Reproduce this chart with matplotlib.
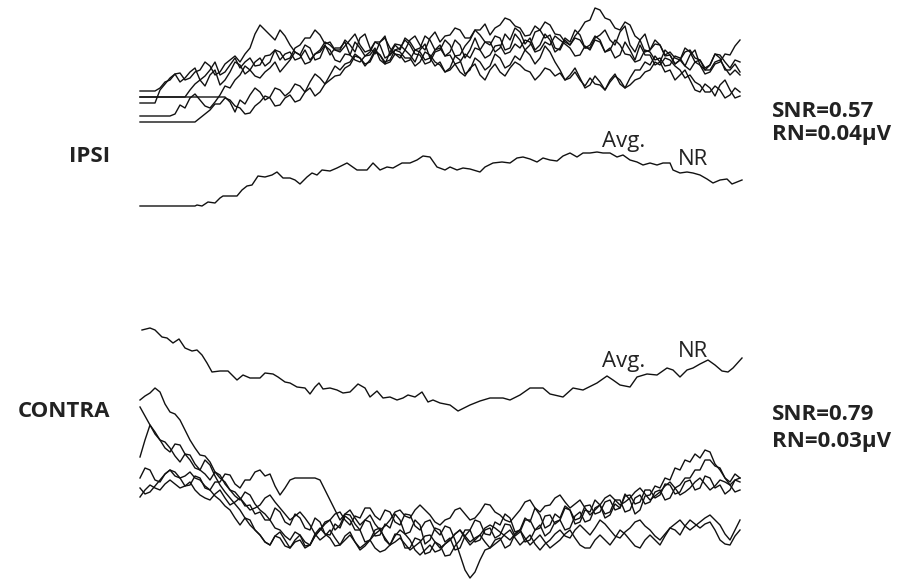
import numpy as np
import matplotlib.pyplot as plt

plt.rcParams['font.family'] = ['Open Sans', 'DejaVu Sans']

# single sweeps are sampled every 5 samples over 0..600
SWEEP_STEP = 5

# IPSI single sweeps (amplitude, arbitrary units), one row = 50 samples
ipsi_a = [9, 9, 9, 9, 12, 18, 20, 26, 27, 20,
          22, 28, 30, 38, 34, 25, 28, 36, 40, 44,
          38, 46, 52, 66, 75, 70, 65, 60, 70, 64,
          55, 48, 45, 55, 52, 40, 42, 54, 50, 40,
          38, 46, 45, 58, 52, 44, 48, 58, 55, 42,
          45, 55, 50, 62, 58, 50, 52, 64, 60, 50,
          55, 44, 48, 60, 55, 42, 50, 62, 50, 58,
          58, 48, 52, 66, 60, 72, 68, 56, 62, 50,
          55, 66, 60, 48, 52, 62, 58, 70, 65, 52,
          55, 64, 60, 48, 52, 42, 45, 58, 50, 40,
          55, 45, 45, 35, 38, 50, 45, 36, 40, 52,
          48, 38, 40, 32, 35, 46, 42, 30, 30, 36,
          28]
ipsi_b = [3, 3, 3, 3, 3, 3, 3, 3, 3, 3,
          10, 16, 20, 14, 25, 30, 15, 20, 28, 38,
          35, 26, 30, 38, 42, 34, 38, 50, 48, 40,
          42, 52, 55, 62, 62, 70, 65, 56, 58, 50,
          50, 60, 55, 48, 62, 66, 52, 46, 58, 64,
          45, 50, 52, 60, 55, 46, 45, 36, 38, 48,
          50, 60, 55, 44, 45, 54, 60, 70, 65, 58,
          55, 64, 62, 50, 52, 66, 60, 50, 55, 68,
          70, 62, 65, 52, 50, 60, 55, 64, 70, 78,
          80, 92, 90, 82, 80, 72, 70, 78, 75, 64,
          60, 48, 50, 60, 55, 44, 45, 36, 40, 48,
          50, 42, 40, 30, 35, 46, 45, 38, 32, 40,
          38]
ipsi_c = [3, 3, 3, 3, 3, 3, 3, 3, 3, 3,
          3, 3, 3, 3, 3, 3, 3, 3, -2, -12,
          0, -4, 5, 12, 8, 0, 3, 12, 10, 4,
          8, 16, 14, 8, 18, 26, 22, 16, 25, 34,
          30, 36, 38, 46, 42, 34, 40, 50, 45, 36,
          38, 46, 42, 50, 45, 38, 50, 56, 42, 34,
          38, 28, 32, 44, 40, 26, 30, 42, 38, 30,
          34, 46, 42, 32, 35, 44, 40, 50, 45, 36,
          42, 54, 48, 38, 30, 20, 25, 32, 22, 12,
          15, 24, 18, 10, 20, 26, 16, 12, 22, 30,
          30, 38, 35, 44, 38, 28, 30, 20, 25, 30,
          20, 10, 8, 16, 12, 4, 15, 20, 10, 2,
          4]
ipsi_d = [-3, -3, -3, -3, 10, 16, 22, 26, 18, 22,
          28, 32, 20, 24, 30, 38, 25, 28, 35, 42,
          32, 38, 42, 34, 35, 44, 45, 50, 40, 46,
          48, 40, 42, 50, 40, 46, 48, 55, 45, 52,
          52, 58, 45, 40, 38, 44, 45, 52, 40, 36,
          48, 56, 55, 50, 60, 64, 55, 50, 62, 68,
          58, 64, 65, 72, 70, 62, 62, 70, 70, 76,
          65, 72, 75, 82, 80, 74, 72, 64, 65, 74,
          70, 78, 75, 66, 65, 58, 55, 62, 60, 52,
          52, 62, 65, 70, 60, 55, 68, 74, 55, 48,
          60, 66, 50, 56, 55, 45, 48, 42, 40, 34,
          45, 50, 35, 30, 30, 38, 40, 32, 25, 30,
          25]
ipsi_e = [-16, -16, -16, -16, -16, -16, -16, -14, -5, -8,
          2, 6, 0, -6, -8, -2, 5, 14, 12, 20,
          25, 34, 30, 24, 22, 28, 32, 38, 28, 34,
          40, 48, 45, 36, 38, 46, 50, 58, 55, 50,
          48, 54, 60, 66, 55, 48, 50, 58, 58, 62,
          52, 46, 45, 38, 40, 50, 48, 40, 42, 50,
          52, 44, 45, 36, 38, 46, 42, 52, 50, 42,
          45, 54, 55, 46, 48, 56, 52, 60, 58, 48,
          50, 58, 55, 64, 60, 56, 52, 44, 45, 54,
          50, 60, 58, 48, 50, 60, 55, 46, 45, 38,
          40, 50, 48, 40, 42, 34, 35, 44, 42, 34,
          30, 38, 35, 26, 28, 36, 38, 46, 45, 54,
          60]
ipsi_f = [-22, -22, -22, -22, -22, -22, -22, -22, -22, -22,
          -22, -22, -18, -14, -10, -4, -4, 2, 0, -6,
          -8, -14, -13, -6, -2, 4, 2, -6, -5, 2,
          5, -2, 0, 8, 12, 4, 8, 16, 20, 24,
          25, 32, 35, 44, 42, 36, 38, 48, 45, 38,
          40, 50, 48, 42, 42, 34, 38, 48, 45, 38,
          35, 28, 30, 36, 28, 24, 32, 36, 25, 20,
          30, 36, 28, 24, 32, 38, 35, 30, 28, 20,
          25, 32, 30, 24, 27, 20, 22, 28, 20, 14,
          22, 16, 15, 10, 18, 24, 20, 12, 15, 20,
          22, 28, 30, 38, 35, 42, 40, 34, 30, 22,
          25, 18, 15, 8, 8, 14, 10, 2, 5, 12,
          8]

# CONTRA single sweeps
contra_p = [100, 104, 107, 112, 108, 96, 88, 86, 80, 70,
            60, 52, 45, 44, 38, 28, 22, 18, 10, 4,
            0, 8, 5, -4, -10, -14, -20, -8, -12, -22,
            -25, -14, -18, -28, -30, -18, -22, -34, -35, -24,
            -28, -16, -20, -30, -30, -20, -22, -36, -35, -24,
            -28, -14, -20, -34, -32, -20, -25, -44, -40, -28,
            -30, -42, -38, -50, -48, -36, -30, -20, -22, -34,
            -35, -22, -25, -14, -18, -32, -30, -18, -22, -8,
            -15, -28, -25, -14, -18, -6, -10, -24, -22, -10,
            -12, 0, -5, -18, -15, -4, -8, 6, 0, -14,
            -10, 4, 5, 14, 12, 22, 20, 32, 30, 40,
            38, 46, 42, 50, 48, 36, 30, 22, 18, 26,
            22]
contra_q = [93, 84, 75, 66, 60, 58, 52, 44, 38, 46,
            45, 36, 30, 26, 20, 28, 25, 16, 10, 8,
            2, -6, -5, -14, -12, -20, -20, -28, -30, -36,
            -40, -32, -35, -46, -45, -36, -30, -22, -20, -30,
            -25, -14, -15, -24, -30, -42, -40, -30, -28, -40,
            -45, -34, -35, -48, -48, -38, -40, -54, -52, -42,
            -45, -56, -55, -46, -40, -30, -30, -42, -40, -30,
            -28, -38, -35, -24, -25, -36, -32, -20, -20, -30,
            -28, -16, -15, -24, -20, -8, -10, -20, -18, -6,
            -5, -14, -12, -2, 0, -10, -8, 4, 5, -4,
            -2, 10, 10, 2, 5, 16, 15, 6, 8, 18,
            20, 10, 12, 24, 22, 12, 15, 6, 10, 20,
            18]
contra_r = [43, 60, 75, 68, 60, 52, 48, 56, 55, 46,
            40, 32, 30, 40, 35, 24, 15, 8, 2, -4,
            -10, -18, -25, -30, -35, -42, -45, -36, -32, -40,
            -48, -42, -40, -48, -45, -36, -30, -24, -20, -14,
            -12, -20, -25, -16, -18, -8, -8, -16, -20, -10,
            -12, -22, -25, -14, -15, -26, -30, -22, -20, -30,
            -35, -26, -28, -40, -55, -70, -78, -72, -60, -50,
            -48, -40, -38, -48, -45, -34, -30, -42, -40, -30,
            -25, -36, -32, -22, -20, -30, -28, -16, -12, -22,
            -20, -8, -5, -14, -12, 0, 0, -12, -10, 2,
            5, -4, -2, 8, 10, 0, 2, 12, 15, 22,
            22, 30, 30, 40, 40, 34, 32, 22, 15, 8,
            10]
contra_s = [22, 32, 30, 20, 18, 26, 30, 24, 22, 14,
            15, 24, 22, 12, 10, 18, 18, 26, 25, 16,
            12, 20, 20, 28, 30, 24, 26, 14, 5, 12,
            20, 22, 22, 22, 22, 22, 20, 10, 0, -10,
            -20, -14, -10, -18, -25, -20, -15, -24, -30, -26,
            -20, -12, -10, -16, -18, -10, -5, -10, -15, -22,
            -25, -20, -18, -10, -8, -14, -20, -18, -12, -4,
            -5, -12, -15, -20, -22, -16, -10, -2, 0, -8,
            -12, -6, -5, 2, 5, -2, -8, -4, 0, -8,
            -15, -10, -5, 2, 5, 0, -5, -2, 2, 8,
            12, 6, 0, 4, 8, 14, 18, 12, 5, 8,
            12, 18, 22, 16, 10, 14, 20, 18, 15, 20,
            22]
contra_t = [12, 6, 8, 14, 20, 26, 30, 28, 22, 24,
            28, 22, 20, 14, 10, 4, 0, -6, -10, -18,
            -25, -18, -20, -30, -35, -42, -45, -36, -38, -46,
            -48, -40, -35, -42, -45, -34, -28, -34, -38, -46,
            -45, -36, -32, -42, -48, -44, -40, -48, -52, -50,
            -45, -36, -30, -34, -40, -50, -55, -50, -45, -52,
            -50, -44, -40, -34, -30, -38, -45, -40, -35, -42,
            -48, -44, -40, -34, -30, -38, -45, -40, -35, -44,
            -50, -44, -40, -34, -30, -36, -38, -30, -25, -30,
            -35, -28, -20, -24, -30, -36, -38, -32, -28, -22,
            -20, -26, -30, -36, -40, -34, -28, -24, -20, -26,
            -30, -26, -22, -18, -15, -20, -25, -34, -40, -30,
            -20]
contra_u = [3, 10, 15, 12, 10, 16, 20, 16, 12, 14,
            18, 10, 5, 2, 0, 6, 10, 2, -5, -2,
            2, -4, -10, -8, -5, 2, 5, -2, -8, -14,
            -20, -16, -12, -18, -25, -34, -40, -36, -30, -38,
            -45, -40, -35, -42, -50, -46, -40, -34, -30, -38,
            -45, -42, -38, -44, -50, -46, -42, -36, -35, -42,
            -48, -44, -40, -34, -30, -36, -42, -38, -35, -28,
            -25, -28, -32, -36, -40, -34, -30, -38, -45, -40,
            -35, -42, -48, -44, -40, -34, -30, -38, -45, -48,
            -48, -40, -35, -40, -45, -38, -30, -34, -40, -46,
            -48, -40, -35, -40, -45, -36, -28, -30, -35, -26,
            -20, -24, -28, -24, -22, -30, -40, -44, -45, -36,
            -30]

# averaged responses (irregular sample times)
ipsi_avg_t = [0, 55, 57, 62, 68, 75, 80, 83, 97, 102, 107, 112, 118, 125, 132, 137, 143, 150, 155, 160, 167,
              172, 177, 182, 190, 197, 207, 217, 227, 233, 240, 247, 253, 262, 270, 277, 283, 290, 297, 305, 310,
              317, 323, 330, 340, 345, 353, 362, 370, 377, 383, 390, 397, 403, 410, 417, 423, 430, 437, 443, 450,
              457, 463, 470, 477, 483, 490, 497, 503, 510, 517, 523, 530, 533, 540, 547, 553, 560, 567, 573, 580,
              587, 592, 597, 602]
ipsi_avg = [-6, -6, -5, -6, -2, -3, 2, 4, 4, 10, 14, 15, 24, 23, 25, 28, 22, 22, 20, 16, 23, 27, 25, 30, 29, 32,
            37, 30, 30, 37, 30, 33, 32, 37, 37, 40, 44, 43, 33, 30, 33, 30, 32, 31, 28, 33, 37, 38, 37, 42, 43,
            41, 38, 42, 40, 39, 44, 47, 43, 47, 47, 48, 47, 47, 43, 45, 40, 38, 35, 37, 35, 37, 37, 30, 27, 28,
            27, 25, 21, 17, 20, 21, 16, 18, 20]
contra_avg_t = [2, 10, 15, 22, 27, 33, 39, 45, 52, 57, 62, 67, 72, 80, 88, 97, 103, 110, 120, 125, 133, 138, 145,
                150, 157, 165, 170, 175, 179, 183, 190, 197, 203, 210, 218, 225, 230, 237, 243, 250, 257, 263,
                268, 275, 282, 288, 293, 300, 310, 318, 330, 340, 350, 363, 370, 380, 390, 397, 403, 410, 423,
                433, 443, 457, 467, 473, 480, 490, 497, 507, 517, 527, 533, 540, 547, 553, 560, 568, 575, 582,
                588, 593, 602]
contra_avg = [70, 72, 70, 63, 62, 57, 61, 52, 49, 50, 45, 37, 28, 29, 29, 20, 25, 22, 22, 27, 26, 23, 18, 17,
              13, 12, 6, 13, 17, 11, 12, 10, 7, 8, 16, 12, 3, 9, 2, 3, 0, 2, 5, 3, 8, -2, 0, -3, -5, -11, -5, -1,
              2, 2, 0, 5, 12, 12, 12, 6, 3, 12, 10, 17, 24, 20, 15, 13, 23, 26, 25, 32, 30, 23, 30, 32, 36, 40,
              35, 29, 28, 32, 42]

ipsi_sweeps = [ipsi_a, ipsi_b, ipsi_c, ipsi_d, ipsi_e, ipsi_f]
contra_sweeps = [contra_p, contra_q, contra_r, contra_s, contra_t, contra_u]

# vertical offset of each trace group
IPSI_SWEEP_OFS = 488
IPSI_AVG_OFS = 388
CONTRA_AVG_OFS = 188
CONTRA_SWEEP_OFS = 88

LW = 1.0
INK = '#111111'
TXT = '#222222'


def draw_group(ax, sweeps, sweep_ofs, avg_t, avg, avg_ofs):
    for s in sweeps:
        t = np.arange(len(s)) * SWEEP_STEP
        ax.plot(t, np.asarray(s) + sweep_ofs, color=INK, lw=LW, solid_joinstyle='round')
    ax.plot(avg_t, np.asarray(avg) + avg_ofs, color=INK, lw=LW, solid_joinstyle='round')


fig = plt.figure(figsize=(9.02, 5.88), dpi=100)
ax = fig.add_axes([0, 0, 1, 1])
ax.set_xlim(-140, 762)
ax.set_ylim(0, 588)
ax.axis('off')

draw_group(ax, ipsi_sweeps, IPSI_SWEEP_OFS, ipsi_avg_t, ipsi_avg, IPSI_AVG_OFS)
draw_group(ax, contra_sweeps, CONTRA_SWEEP_OFS, contra_avg_t, contra_avg, CONTRA_AVG_OFS)

bold = dict(fontsize=16, fontweight='bold', color=TXT, va='baseline')
ax.text(-30, 426, 'IPSI', ha='right', **bold)
ax.text(-30, 171, 'CONTRA', ha='right', **bold)
ax.text(632, 471, 'SNR=0.57', ha='left', **bold)
ax.text(632, 448, 'RN=0.04µV', ha='left', **bold)
ax.text(632, 168, 'SNR=0.79', ha='left', **bold)
ax.text(632, 141, 'RN=0.03µV', ha='left', **bold)

thin = dict(fontsize=16, color=TXT, ha='left', va='baseline')
ax.text(462, 441, 'Avg.', **thin)
ax.text(538, 423, 'NR', **thin)
ax.text(462, 221, 'Avg.', **thin)
ax.text(538, 231, 'NR', **thin)

fig.savefig('out.png', dpi=100)
